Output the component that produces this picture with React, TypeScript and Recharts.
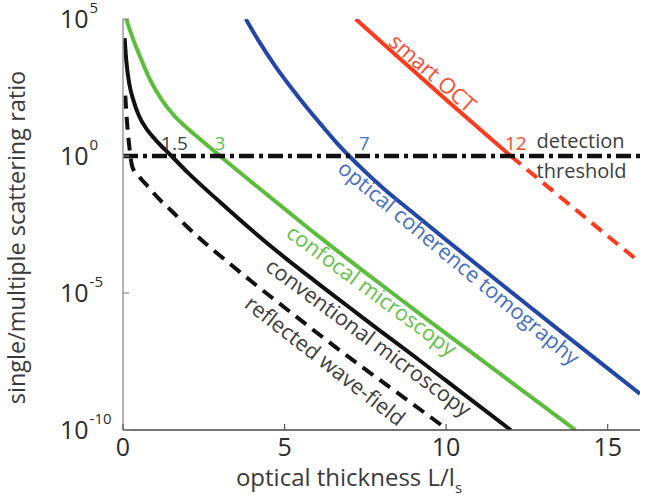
import React from 'react';
import { LineChart, Line, XAxis, YAxis, ReferenceLine, ReferenceDot, Label } from 'recharts';

const FONT = '"Open Sans", "Noto Sans", sans-serif';

// Optical thickness L/ls and log10(single/multiple scattering ratio) for each method
const reflectedX = [0.07, 0.12, 0.2, 0.29, 0.5, 0.8, 1.1, 1.5, 2, 2.68, 3.2, 4, 5, 6, 7, 8, 9, 9.85];
const reflectedLog = [2.2, 1.3, 0.3, -0.4, -0.75, -1.15, -1.55, -2.0, -2.6, -3.32, -3.83, -4.6, -5.53, -6.45, -7.35, -8.22, -9.08, -9.82];

const conventionalX = [0.05, 0.1, 0.2, 0.32, 0.5, 0.75, 1, 1.5, 2, 3, 4, 5, 6, 7, 8, 9, 10, 11, 12];
const conventionalLog = [4.3, 3.5, 2.6, 2.04, 1.45, 0.95, 0.6, 0, -0.6, -1.68, -2.72, -3.7, -4.62, -5.52, -6.42, -7.3, -8.2, -9.1, -10];

const confocalX = [0.1, 0.3, 0.5, 0.85, 1.2, 1.6, 2, 2.5, 3, 4, 5, 6, 7, 8, 9, 10, 11, 12, 13, 14];
const confocalLog = [5, 4.3, 3.7, 2.75, 2.05, 1.45, 1.0, 0.5, 0, -0.97, -1.93, -2.88, -3.8, -4.7, -5.6, -6.48, -7.36, -8.24, -9.12, -10];

const octX = [3.8, 4.2, 4.7, 5.2, 5.7, 6.2, 6.6, 7, 7.5, 8, 9, 10, 11, 12, 13, 14, 15, 16];
const octLog = [5, 4.2, 3.3, 2.5, 1.75, 1.05, 0.5, 0, -0.58, -1.12, -2.1, -3.06, -4.01, -4.95, -5.89, -6.82, -7.75, -8.68];

const smartOctX = [7.2, 8, 9, 10, 11, 12, 13, 14, 15, 16];
const smartOctLog = [5, 4.15, 3.1, 2.05, 1.02, 0, -0.98, -1.95, -2.92, -3.88];

// Detection threshold (log10 ratio) and the depths where each method reaches it
const thresholdLog = 0;
const crossingDepths = [1.5, 3, 7, 12];

const xTicks = [0, 5, 10, 15];
const yTickExponents = [-10, -5, 0, 5];

const toPoints = (xs: number[], ys: number[]) => xs.map((x, i) => ({ x, y: ys[i] }));

const reflected = toPoints(reflectedX, reflectedLog);
const conventional = toPoints(conventionalX, conventionalLog);
const confocal = toPoints(confocalX, confocalLog);
const oct = toPoints(octX, octLog);
const smartOct = toPoints(smartOctX, smartOctLog);
const smartOctAbove = smartOct.filter((p) => p.x <= crossingDepths[3]);
const smartOctBelow = smartOct.filter((p) => p.x >= crossingDepths[3]);

const COLORS = {
  black: '#111111',
  green: '#5cbd3c',
  blue: '#2247a8',
  red: '#ff3b1f',
  greenText: '#66c14a',
  blueText: '#4470c2',
  redText: '#ff4a30',
  grayText: '#3d3d3d',
};

// Labels that run along each curve (anchored in data space, rotated in degrees)
const curveLabels = [
  { text: 'smart OCT', x: 9.6, y: 3.05, angle: 41, color: COLORS.redText },
  { text: 'optical coherence tomography', x: 10.41, y: -3.87, angle: 39.7, color: COLORS.blueText },
  { text: 'confocal microscopy', x: 7.71, y: -4.88, angle: 36.5, color: COLORS.greenText },
  { text: 'conventional microscopy', x: 7.62, y: -6.6, angle: 36.6, color: COLORS.grayText },
  { text: 'reflected wave-field', x: 6.27, y: -7.45, angle: 38, color: COLORS.grayText },
];

const crossingStyle = [
  { color: COLORS.grayText, dx: 3 },
  { color: COLORS.greenText, dx: 0 },
  { color: COLORS.blueText, dx: 15 },
  { color: COLORS.redText, dx: 5 },
];

const YTick = ({ x, y, payload }: any) => (
  <g>
    <line x1={x} x2={x + 6} y1={y} y2={y} stroke="#888" strokeWidth={1.2} />
    <text x={x - 63} y={y + 9} fontFamily={FONT} fill="#2b2b2b" textAnchor="start">
      <tspan fontSize={25}>10</tspan>
      <tspan fontSize={15} dy={-15} dx={1}>{payload.value}</tspan>
    </text>
  </g>
);

const XTick = ({ x, y, payload }: any) => (
  <g>
    <line x1={x} x2={x} y1={y} y2={y - 6} stroke="#555" strokeWidth={1.2} />
    <text x={x} y={y + 26} fontFamily={FONT} fontSize={25} fill="#2b2b2b" textAnchor="middle">
      {payload.value}
    </text>
  </g>
);

const TopTick = ({ x, y }: any) => <line x1={x} x2={x} y1={y} y2={y + 6} stroke="#777" strokeWidth={1.2} />;
const RightTick = ({ x, y }: any) => <line x1={x} x2={x - 6} y1={y} y2={y} stroke="#777" strokeWidth={1.2} />;

const XTitle = (props: any) => {
  const vb = props.viewBox || { x: 123, y: 430, width: 517, height: 40 };
  return (
    <text x={vb.x + 226} y={vb.y + 56} fontFamily={FONT} fontSize={24} fill="#3a3a3a" textAnchor="middle">
      optical thickness L/l
      <tspan fontSize={15} dy={7}>s</tspan>
    </text>
  );
};

const YTitle = (props: any) => {
  const vb = props.viewBox || { x: 63, y: 19, width: 60, height: 411 };
  const cx = vb.x - 38;
  const cy = vb.y + vb.height / 2 + 13;
  return (
    <text
      x={cx}
      y={cy}
      transform={`rotate(-90, ${cx}, ${cy})`}
      fontFamily={FONT}
      fontSize={23.5}
      fill="#3a3a3a"
      textAnchor="middle"
    >
      single/multiple scattering ratio
    </text>
  );
};

const curveText = (label: typeof curveLabels[number]) => (p: any) => (
  <text
    x={p.cx}
    y={p.cy}
    transform={`rotate(${label.angle}, ${p.cx}, ${p.cy})`}
    fontFamily={FONT}
    fontSize={21.5}
    fill={label.color}
    textAnchor="middle"
    dominantBaseline="central"
  >
    {label.text}
  </text>
);

const crossingText = (value: number, i: number) => (p: any) => (
  <text
    x={p.cx + crossingStyle[i].dx}
    y={p.cy - 6}
    fontFamily={FONT}
    fontSize={19}
    fill={crossingStyle[i].color}
    textAnchor="middle"
  >
    {value}
  </text>
);

const thresholdText = (p: any) => (
  <text x={p.cx} y={p.cy} fontFamily={FONT} fontSize={20} fill={COLORS.grayText} textAnchor="start">
    <tspan x={p.cx} dy={-8}>detection</tspan>
    <tspan x={p.cx} dy={30}>threshold</tspan>
  </text>
);

export default function App() {
  return (
    <div style={{ position: 'absolute', left: 0, top: 0, background: '#fff' }}>
      <LineChart width={651} height={497} margin={{ top: 19, right: 11, bottom: 27, left: 63 }}>
        <XAxis
          type="number"
          dataKey="x"
          domain={[0, 16]}
          ticks={xTicks}
          interval={0}
          tickSize={0}
          tickMargin={0}
          tickLine={false}
          tick={<XTick />}
          height={40}
          axisLine={{ stroke: '#444', strokeWidth: 1.5 }}
          allowDataOverflow
        >
          <Label content={<XTitle />} />
        </XAxis>
        <XAxis
          xAxisId="top"
          orientation="top"
          type="number"
          dataKey="x"
          domain={[0, 16]}
          ticks={xTicks}
          interval={0}
          tickSize={0}
          tickMargin={0}
          tickLine={false}
          tick={<TopTick />}
          height={0}
          axisLine={{ stroke: '#999', strokeWidth: 1.5 }}
          allowDataOverflow
        />
        <YAxis
          type="number"
          domain={[-10, 5]}
          ticks={yTickExponents}
          interval={0}
          tickSize={0}
          tickMargin={0}
          tickLine={false}
          tick={<YTick />}
          width={60}
          axisLine={{ stroke: '#999', strokeWidth: 1.5 }}
          allowDataOverflow
        >
          <Label content={<YTitle />} />
        </YAxis>
        <YAxis
          yAxisId="right"
          orientation="right"
          type="number"
          domain={[-10, 5]}
          ticks={yTickExponents}
          interval={0}
          tickSize={0}
          tickMargin={0}
          tickLine={false}
          tick={<RightTick />}
          width={0}
          axisLine={{ stroke: '#888', strokeWidth: 1.5 }}
          allowDataOverflow
        />

        <Line data={reflected} dataKey="y" type="monotone" stroke={COLORS.black} strokeWidth={4}
          strokeDasharray="13 8" dot={false} activeDot={false} isAnimationActive={false} />
        <Line data={conventional} dataKey="y" type="monotone" stroke={COLORS.black} strokeWidth={4}
          dot={false} activeDot={false} isAnimationActive={false} />
        <Line data={confocal} dataKey="y" type="monotone" stroke={COLORS.green} strokeWidth={4}
          dot={false} activeDot={false} isAnimationActive={false} />
        <Line data={oct} dataKey="y" type="monotone" stroke={COLORS.blue} strokeWidth={4}
          dot={false} activeDot={false} isAnimationActive={false} />
        <Line data={smartOctAbove} dataKey="y" type="monotone" stroke={COLORS.red} strokeWidth={4}
          dot={false} activeDot={false} isAnimationActive={false} />
        <Line data={smartOctBelow} dataKey="y" type="monotone" stroke={COLORS.red} strokeWidth={4}
          strokeDasharray="13 8" dot={false} activeDot={false} isAnimationActive={false} />

        <ReferenceLine y={thresholdLog} stroke={COLORS.black} strokeWidth={4.5} strokeDasharray="15 5 4 5" />

        {curveLabels.map((l) => (
          <ReferenceDot key={l.text} x={l.x} y={l.y} r={0} ifOverflow="visible" shape={curveText(l)} />
        ))}
        {crossingDepths.map((d, i) => (
          <ReferenceDot key={`c${d}`} x={d} y={thresholdLog} r={0} ifOverflow="visible" shape={crossingText(d, i)} />
        ))}
        <ReferenceDot x={12.8} y={thresholdLog} r={0} ifOverflow="visible" shape={thresholdText} />
      </LineChart>
    </div>
  );
}
